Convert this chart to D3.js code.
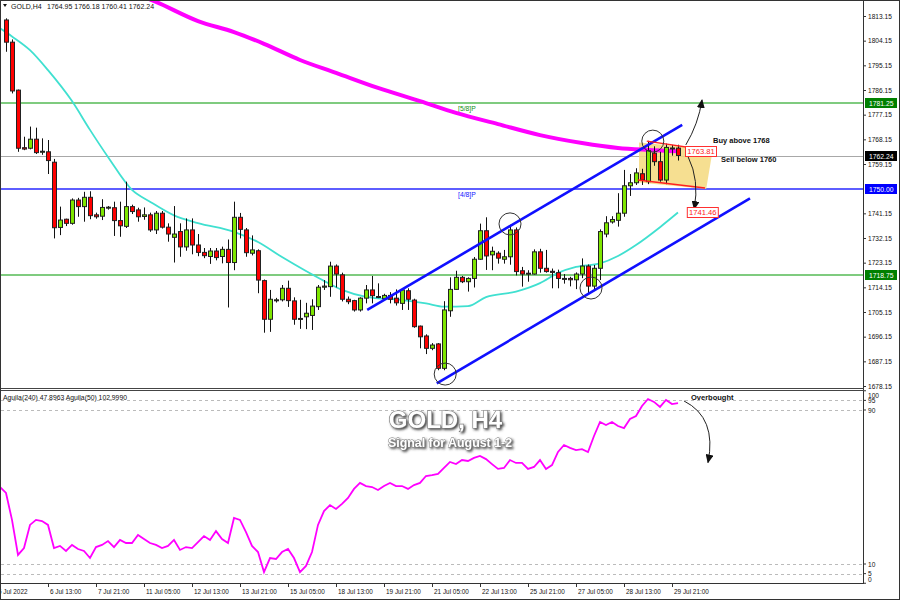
<!DOCTYPE html>
<html><head><meta charset="utf-8">
<script src="https://cdnjs.cloudflare.com/ajax/libs/d3/7.8.5/d3.min.js"></script>
<style>html,body{margin:0;padding:0;background:#fff;} svg{display:block;font-family:"Liberation Sans",Arial,sans-serif;}</style>
</head><body><svg id="c" width="900" height="600"></svg>
<script>
// ---------- DATA ----------
const opens  = [1811.7,1803.6,1786.1,1765.1,1764.9,1768.2,1763.6,1763.6,1759.8,1736.0,
1739.0,1737.5,1746.0,1743.6,1747.0,1740.6,1740.1,1743.2,1743.2,1738.5,
1736.4,1743.6,1742.4,1740.0,1740.6,1735.1,1741.2,1736.1,1732.4,1734.5,
1728.9,1735.1,1729.6,1726.9,1725.4,1727.4,1725.4,1728.0,1723.2,1739.7,
1735.1,1726.6,1727.5,1716.6,1702.5,1709.4,1709.6,1713.8,1709.2,1702.5,
1703.4,1703.9,1707.1,1714.2,1714.4,1721.9,1718.7,1709.8,1709.3,1705.9,
1710.2,1713.2,1710.8,1710.0,1711.2,1710.2,1708.3,1712.9,1709.5,1700.0,
1696.4,1691.9,1693.5,1684.6,1705.6,1713.4,1717.8,1716.2,1717.4,1724.4,
1734.8,1726.0,1726.6,1724.4,1725.3,1735.1,1720.2,1719.0,1719.0,1727.1,
1721.1,1720.0,1719.5,1717.2,1717.4,1716.9,1719.0,1721.9,1714.6,1721.1,
1733.6,1738.0,1738.6,1741.2,1751.2,1752.3,1755.6,1752.7,1763.1,1760.0,
1753.3,1764.8,1764.95];
const highs  = [1812.3,1804.6,1786.3,1769.1,1772.8,1772.4,1768.5,1767.9,1761.0,1743.6,
1739.2,1746.6,1746.8,1749.0,1749.2,1741.4,1746.3,1743.8,1745.4,1745.4,
1752.7,1744.3,1743.2,1743.3,1741.4,1742.0,1742.0,1737.5,1743.8,1737.5,
1739.3,1739.3,1733.6,1728.5,1728.5,1728.5,1729.0,1731.6,1745.4,1741.3,
1735.8,1733.1,1728.0,1717.0,1713.2,1710.3,1715.0,1716.6,1710.5,1709.6,
1708.5,1709.8,1715.0,1716.8,1723.5,1722.5,1719.5,1710.8,1709.6,1710.5,
1715.0,1718.3,1715.6,1711.8,1712.4,1713.4,1713.8,1713.8,1710.0,1700.2,
1697.0,1693.8,1693.8,1709.1,1717.8,1720.2,1718.3,1717.8,1725.2,1737.4,
1739.7,1729.0,1727.3,1727.8,1737.0,1736.0,1721.6,1720.4,1728.0,1728.2,
1727.8,1721.0,1720.6,1719.0,1718.0,1719.6,1724.7,1722.5,1722.3,1735.3,
1740.1,1740.1,1748.5,1757.0,1755.5,1757.6,1757.4,1767.6,1765.6,1763.6,
1766.6,1766.1,1766.18];
const lows   = [1800.1,1784.9,1763.6,1764.2,1764.5,1762.8,1762.5,1755.5,1732.0,1733.2,
1736.5,1737.0,1739.9,1738.1,1739.0,1739.2,1738.7,1742.5,1732.9,1732.6,
1735.8,1740.9,1738.1,1738.8,1734.4,1733.6,1735.6,1730.8,1723.2,1725.3,
1727.5,1726.2,1725.5,1724.8,1722.7,1724.0,1722.9,1706.8,1720.4,1732.0,
1725.3,1725.8,1712.0,1697.6,1697.9,1708.6,1709.0,1707.0,1700.5,1699.0,
1698.9,1698.6,1705.9,1713.2,1710.7,1714.1,1709.0,1708.0,1705.3,1705.3,
1708.3,1708.3,1710.2,1709.4,1708.3,1707.5,1705.9,1705.9,1699.4,1691.9,
1689.8,1691.2,1683.9,1683.9,1703.4,1713.2,1715.7,1712.6,1714.1,1724.2,
1720.5,1720.4,1722.8,1722.8,1722.4,1718.5,1714.4,1716.2,1718.8,1719.5,
1719.5,1713.8,1713.8,1715.5,1714.5,1713.5,1717.5,1712.0,1712.8,1716.8,
1732.4,1737.4,1736.3,1739.9,1747.5,1751.5,1751.5,1751.8,1758.5,1752.7,
1751.8,1762.2,1760.41];
const closes = [1803.6,1785.8,1764.9,1764.6,1768.2,1763.3,1763.8,1760.4,1735.9,1738.7,
1737.5,1746.0,1743.6,1747.0,1740.3,1739.9,1743.3,1743.4,1738.5,1736.6,
1743.6,1741.8,1739.9,1740.6,1735.1,1741.2,1736.1,1733.6,1733.6,1728.9,
1735.1,1729.6,1726.9,1725.7,1727.4,1725.0,1728.0,1723.2,1739.7,1735.3,
1726.8,1727.8,1716.8,1702.5,1709.8,1709.6,1713.8,1709.3,1702.5,1702.8,
1704.7,1707.3,1714.2,1714.6,1721.9,1719.0,1709.8,1708.9,1705.9,1710.2,
1713.2,1711.1,1710.7,1711.2,1709.8,1708.5,1713.2,1709.8,1699.8,1696.1,
1691.9,1693.1,1684.6,1705.9,1713.4,1717.8,1716.2,1717.4,1724.4,1734.8,
1725.6,1727.3,1724.8,1725.3,1735.1,1719.9,1719.0,1719.3,1727.1,1721.1,
1719.9,1719.6,1717.4,1717.4,1716.9,1719.0,1721.9,1714.6,1721.1,1734.5,
1737.7,1738.9,1741.2,1751.2,1752.3,1755.9,1753.3,1764.0,1760.0,1753.3,
1765.2,1765.0,1762.24];

// moving averages: [bar index, price]
const maFast = [[-1,1808.7],[1,1805.7],[4,1800.7],[7,1793.4],[11,1782.1],[14,1771.6],[17,1761.7],
[21,1749.7],[24,1745.4],[28,1740.4],[32,1737.6],[38,1734.4],[42,1730.7],[46,1725.2],[50,1720.1],
[53,1716.5],[56,1713.2],[60,1710.7],[66,1709.5],[70,1708.3],[73,1707.1],[77,1707.3],[80,1710.6],
[85,1712.6],[89,1715.7],[92,1719.4],[95,1721.6],[99,1722.9],[102,1725.6],[105,1729.6],[109,1736.1],[112,1741.46]];
const maSlow = [[23,1820.1],[25,1818.3],[32,1811.3],[38,1807.3],[43,1803.0],[49,1797.1],[55,1792.4],
[62,1786.9],[69,1782.1],[75,1777.8],[82,1773.7],[89,1769.7],[96,1766.8],[102,1765.0],[107,1764.3],[112,1763.81]];

// Aguila indicator values, one per bar starting at bar index -1
const aguila = [50.0,46.9,32.9,14.7,18.3,30.3,32.9,32.3,30.3,18.3,
19.4,16.8,19.9,17.8,16.8,13.1,18.8,19.9,21.9,18.8,
22.5,20.9,20.9,25.1,23.0,20.9,19.9,18.3,19.4,22.5,
17.3,18.8,18.3,21.4,24.5,22.5,27.1,23.0,20.9,33.9,
32.9,26.6,19.4,16.2,5.8,13.1,12.6,16.2,17.8,13.1,
5.8,9.0,16.2,30.3,37.5,40.6,38.6,41.2,44.3,49.0,
52.1,50.5,50.0,48.4,50.5,52.1,50.5,50.5,49.0,51.0,
52.1,55.7,56.2,56.8,59.9,63.0,61.9,64.0,63.5,65.1,
66.1,64.5,61.9,59.4,59.9,64.0,62.5,62.5,59.4,60.4,
64.0,59.4,61.4,68.2,71.8,70.3,69.2,69.7,68.2,76.5,
83.8,82.2,83.8,81.7,80.6,85.3,86.9,92.1,95.7,94.2,
91.6,95.2,93.1,93.6];

const priceTicks = [1813.15,1804.15,1795.15,1786.15,1777.15,1768.15,1759.15,1741.15,1732.15,1723.15,1714.15,1705.15,1696.15,1687.15,1678.15];
const indTicks = [100,95,90,10,5,0];
const indLevels = [95,90,10,5];
const timeLabels = ["5 Jul 2022","6 Jul 13:00","7 Jul 21:00","11 Jul 05:00","12 Jul 13:00","13 Jul 21:00","15 Jul 05:00","18 Jul 13:00","19 Jul 21:00","21 Jul 05:00","22 Jul 13:00","25 Jul 21:00","27 Jul 05:00","28 Jul 13:00","29 Jul 21:00"];
const timeIdx = [-1.6,7,15,23,31,39,47,55,63,71,79,87,95,103,111];

const levels = [
  {v:1781.25, name:"[5/8]P", color:"#55bb55", text:"#119011", box:"#008000"},
  {v:1750.00, name:"[4/8]P", color:"#2a2aff", text:"#1414ff", box:"#0000ff"},
  {v:1718.75, name:"",       color:"#55bb55", text:"#119011", box:"#008000"}
];
const lastPrice = 1762.24;
const chanUp = [[60.2,1705.9],[112.7,1773.4]];
const chanLow = [[71.8,1679.1],[124,1746.6]];
const circles = [[73.2,1682.5],[84,1737.3],[97.5,1713.9],[107.8,1767.5]];
const zone = [[105.5,1767.0],[117.8,1764.5],[116.7,1750.0],[105.5,1752.4]];
const wedgeTop = [[106.8,1767.5],[117.5,1764.0]];
const wedgeBot = [[105.3,1753.3],[116.5,1750.4]];
const arrowUp = [[113.3,1766.1],[115.4,1773.8],[116,1782.5]];
const arrowDown = [[113.7,1761.7],[115.6,1753.3],[114.7,1742.7]];
const arrowInd = [[113,94.7],[118.5,86.0],[117,62.7]];
const markLabels = [{v:1763.81, idx:113.0},{v:1741.46, idx:113.3}];

// ---------- LAYOUT ----------
const svg = d3.select('#c');
const plotR = 863, mainB = 388, indT = 391, indB = 583;
const x = d3.scaleLinear().domain([0,112]).range([6,678]);
const y = d3.scaleLinear().domain([1678.15,1813.15]).range([386,16]);
const yi = d3.scaleLinear().domain([0,100]).range([583.25,390.75]);
const X = i => x(i)+0.5;

const defs = svg.append('defs');
defs.append('clipPath').attr('id','cm').append('rect').attr('x',1).attr('y',0).attr('width',plotR-1).attr('height',mainB);
defs.append('clipPath').attr('id','ci').append('rect').attr('x',1).attr('y',indT).attr('width',plotR-1).attr('height',indB-indT);
defs.append('marker').attr('id','ah').attr('markerUnits','userSpaceOnUse').attr('markerWidth',9).attr('markerHeight',8)
  .attr('refX',8).attr('refY',4).attr('orient','auto')
  .append('path').attr('d','M0,0 L9,4 L0,8 Z').attr('fill','#111');
const flt = defs.append('filter').attr('id','sh').attr('x','-10%').attr('y','-30%').attr('width','130%').attr('height','170%');
flt.append('feDropShadow').attr('dx',1.5).attr('dy',1.5).attr('stdDeviation',1).attr('flood-color','#333').attr('flood-opacity',0.9);

svg.append('rect').attr('width',900).attr('height',600).attr('fill','#fff');

const gm = svg.append('g').attr('clip-path','url(#cm)');
const gi = svg.append('g').attr('clip-path','url(#ci)');

// horizontal levels
levels.forEach(l=>{
  gm.append('rect').attr('x',1).attr('width',plotR-1).attr('y',Math.round(y(l.v))-0.75).attr('height',1.5)
    .attr('fill',l.color);
  if(l.name) gm.append('text').attr('x',458).attr('y',y(l.v)+7.5).attr('font-size',6.8).attr('fill',l.text).text(l.name);
});
gm.append('rect').attr('x',1).attr('width',plotR-1).attr('y',Math.round(y(lastPrice))).attr('height',1).attr('fill','#a8a8a8');

// yellow zone
gm.append('path').attr('d','M'+zone.map(p=>[x(p[0]),y(p[1])].join(',')).join('L')+'Z')
  .attr('fill','#f4d97e').attr('opacity',0.85);

// MAs
const line = d3.line().x(d=>x(d[0])).y(d=>y(d[1])).curve(d3.curveMonotoneX);
gm.append('path').attr('d',line(maSlow)).attr('fill','none').attr('stroke','#ff00ff').attr('stroke-width',4);
gm.append('path').attr('d',line(maFast)).attr('fill','none').attr('stroke','#40e0d0').attr('stroke-width',1.8);

// candles
const bars = d3.range(opens.length).map(i=>({i,o:opens[i],h:highs[i],l:lows[i],c:closes[i]}));
const cg = gm.append('g');
cg.selectAll('line.w').data(bars).join('line').attr('class','w')
  .attr('x1',d=>X(d.i)).attr('x2',d=>X(d.i)).attr('y1',d=>y(d.h)).attr('y2',d=>y(d.l))
  .attr('stroke','#111').attr('stroke-width',1);
cg.selectAll('rect').data(bars).join('rect')
  .attr('x',d=>X(d.i)-2).attr('width',4)
  .attr('y',d=>y(Math.max(d.o,d.c)))
  .attr('height',d=>Math.max(1,Math.abs(y(d.o)-y(d.c))))
  .attr('fill',d=>d.c>=d.o?'#7ee600':'#ff0000')
  .attr('stroke','#222').attr('stroke-width',1);

// channel
[chanUp,chanLow].forEach(c=>{
  gm.append('line').attr('x1',x(c[0][0])).attr('y1',y(c[0][1])).attr('x2',x(c[1][0])).attr('y2',y(c[1][1]))
    .attr('stroke','#1010ff').attr('stroke-width',2.6);
});
// wedge lines
[wedgeTop,wedgeBot].forEach(c=>{
  gm.append('line').attr('x1',x(c[0][0])).attr('y1',y(c[0][1])).attr('x2',x(c[1][0])).attr('y2',y(c[1][1]))
    .attr('stroke','#ff2020').attr('stroke-width',1.4);
});
// circles
gm.selectAll('circle').data(circles).join('circle')
  .attr('cx',d=>x(d[0])).attr('cy',d=>y(d[1])).attr('r',11)
  .attr('fill','none').attr('stroke','#333').attr('stroke-width',1);

// arrows
function qpath(p,sx,sy){return `M${sx(p[0][0])},${sy(p[0][1])} Q${sx(p[1][0])},${sy(p[1][1])} ${sx(p[2][0])},${sy(p[2][1])}`;}
gm.append('path').attr('d',qpath(arrowUp,x,y)).attr('fill','none').attr('stroke','#222').attr('stroke-width',1).attr('marker-end','url(#ah)');
gm.append('path').attr('d',qpath(arrowDown,x,y)).attr('fill','none').attr('stroke','#222').attr('stroke-width',1).attr('marker-end','url(#ah)');

// marked price boxes
markLabels.forEach(m=>{
  const bx = x(m.idx)+1, by = y(m.v);
  gm.append('rect').attr('x',bx+0.5).attr('y',Math.round(by-5)+0.5).attr('width',31).attr('height',10)
    .attr('fill','#fff').attr('stroke','#ff3030').attr('stroke-width',1);
  gm.append('text').attr('x',bx+16).attr('y',by+3).attr('text-anchor','middle').attr('font-size',7.6).attr('fill','#ff2020').text(m.v.toFixed(2));
});

// annotation texts
gm.append('text').attr('x',713).attr('y',143).attr('font-size',7.5).attr('font-weight','bold').attr('fill','#111').text('Buy above 1768');
gm.append('text').attr('x',721).attr('y',162).attr('font-size',7.5).attr('font-weight','bold').attr('fill','#111').text('Sell below 1760');

// header
svg.append('path').attr('d','M3,4 L7,4 L5,7 Z').attr('fill','#111');
svg.append('text').attr('x',11).attr('y',8.5).attr('font-size',7).attr('fill','#111').text('GOLD,H4');
svg.append('text').attr('x',47).attr('y',8.5).attr('font-size',7).attr('fill','#111').text('1764.95 1766.18 1760.41 1762.24');

// ---------- INDICATOR ----------
indLevels.forEach(v=>{
  gi.append('line').attr('x1',1).attr('x2',plotR).attr('y1',Math.round(yi(v))+0.5).attr('y2',Math.round(yi(v))+0.5)
    .attr('stroke','#bbb').attr('stroke-dasharray','3,3').attr('stroke-width',1);
});
const il = d3.line().x((d,j)=>x(j-1)).y(d=>yi(d));
gi.append('path').attr('d',il(aguila)).attr('fill','none').attr('stroke','#ff00ff').attr('stroke-width',1.8);
gi.append('path').attr('d',qpath(arrowInd,x,yi)).attr('fill','none').attr('stroke','#222').attr('stroke-width',1).attr('marker-end','url(#ah)');
svg.append('text').attr('x',3).attr('y',400).attr('font-size',6.8).attr('fill','#111').text('Aguila(240) 47.8963  Aguila(50) 102.9990');
svg.append('text').attr('x',691).attr('y',400).attr('font-size',7.5).attr('font-weight','bold').attr('fill','#111').text('Overbought');

// Title
const tg = svg.append('g').attr('text-anchor','middle').attr('font-weight','bold').attr('filter','url(#sh)');
tg.append('text').attr('x',445.5).attr('y',428).attr('font-size',24).attr('fill','#fff').attr('stroke','#777').attr('stroke-width',1.2).attr('paint-order','stroke').text('GOLD, H4');
tg.append('text').attr('x',450).attr('y',447).attr('font-size',12.4).attr('fill','#fff').attr('stroke','#777').attr('stroke-width',0.8).attr('paint-order','stroke').text('Signal for August 1-2');

// ---------- AXES / FRAMES ----------
const ax = svg.append('g').attr('transform',`translate(${plotR},0)`)
  .call(d3.axisRight(y).tickValues(priceTicks).tickSize(3).tickFormat(d3.format('.2f')));
ax.select('.domain').remove();
ax.selectAll('text').attr('font-size',6.6).attr('fill','#111').attr('x',5).attr('font-family','"Liberation Sans",Arial,sans-serif');
ax.selectAll('line').attr('stroke','#333');

// highlighted axis boxes
[...levels.map(l=>({v:l.v,bg:l.box})),{v:lastPrice,bg:'#000'}].forEach(b=>{
  const by=Math.round(y(b.v));
  svg.append('rect').attr('x',865).attr('y',by-5).attr('width',32).attr('height',10).attr('fill',b.bg);
  svg.append('text').attr('x',869).attr('y',by+3).attr('font-size',6.8).attr('fill','#fff').text(b.v.toFixed(2));
});

// indicator axis
indTicks.forEach(v=>{
  const ty = Math.min(Math.max(yi(v),395),579);
  svg.append('line').attr('x1',plotR).attr('x2',plotR+3).attr('y1',yi(v)).attr('y2',yi(v)).attr('stroke','#333');
  svg.append('text').attr('x',868).attr('y',ty+2.5).attr('font-size',6.6).attr('fill','#111').text(v);
});

// time axis
timeIdx.forEach((ti,k)=>{
  const tx = Math.round(x(ti))+0.5;
  svg.append('line').attr('x1',tx).attr('x2',tx).attr('y1',indB).attr('y2',indB+4).attr('stroke','#333');
  svg.append('text').attr('x',tx+1.5).attr('y',594).attr('font-size',6.4).attr('fill','#111').text(timeLabels[k]);
});

// frames
svg.append('line').attr('x1',0.5).attr('x2',0.5).attr('y1',0).attr('y2',indB).attr('stroke','#333');
svg.append('line').attr('x1',plotR+0.5).attr('x2',plotR+0.5).attr('y1',0).attr('y2',indB).attr('stroke','#333');
svg.append('line').attr('x1',0).attr('x2',plotR+1).attr('y1',mainB+0.5).attr('y2',mainB+0.5).attr('stroke','#444');
svg.append('line').attr('x1',0).attr('x2',plotR+1).attr('y1',indT-0.5).attr('y2',indT-0.5).attr('stroke','#444');
svg.append('line').attr('x1',0).attr('x2',plotR+1).attr('y1',indB+0.5).attr('y2',indB+0.5).attr('stroke','#333');
svg.append('rect').attr('x',0.5).attr('y',0.5).attr('width',899).attr('height',599).attr('fill','none').attr('stroke','#333');
</script></body></html>
